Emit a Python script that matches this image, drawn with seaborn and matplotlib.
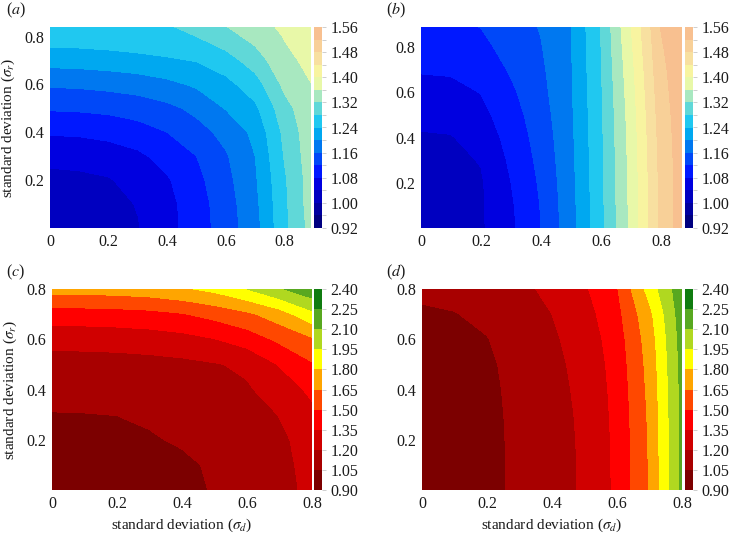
import numpy as np
import matplotlib
matplotlib.use("Agg")
import matplotlib.pyplot as plt
import seaborn as sns

sns.set_theme(style="white")
plt.rcParams["font.family"] = ["Liberation Serif", "DejaVu Serif"]
plt.rcParams["mathtext.fontset"] = "stix"

# grid of standard deviations the surfaces were read on
sd_ab = [0.0, 0.1, 0.2, 0.3, 0.4, 0.5, 0.6, 0.7, 0.8, 0.9]
sd_cd = [0.0, 0.1, 0.2, 0.3, 0.4, 0.5, 0.6, 0.7, 0.8]

# (a) rows = sigma_r, columns = sigma_d
z_a = [
    [1.010, 1.013, 1.025, 1.038, 1.067, 1.100, 1.140, 1.185, 1.270, 1.340],
    [1.015, 1.018, 1.028, 1.042, 1.068, 1.102, 1.142, 1.190, 1.272, 1.345],
    [1.028, 1.031, 1.037, 1.055, 1.076, 1.109, 1.148, 1.195, 1.275, 1.345],
    [1.052, 1.054, 1.060, 1.072, 1.095, 1.120, 1.156, 1.200, 1.283, 1.348],
    [1.084, 1.086, 1.092, 1.103, 1.120, 1.145, 1.172, 1.210, 1.290, 1.350],
    [1.124, 1.126, 1.130, 1.138, 1.150, 1.170, 1.202, 1.232, 1.305, 1.355],
    [1.165, 1.167, 1.172, 1.178, 1.190, 1.206, 1.228, 1.262, 1.330, 1.362],
    [1.215, 1.217, 1.221, 1.227, 1.234, 1.242, 1.262, 1.300, 1.350, 1.372],
    [1.260, 1.261, 1.264, 1.268, 1.273, 1.280, 1.305, 1.333, 1.362, 1.385],
    [1.272, 1.274, 1.277, 1.281, 1.286, 1.300, 1.338, 1.355, 1.372, 1.398],
]

# (b) columns = sigma_d, each listed along sigma_r
z_b_cols = [
    [1.010, 1.012, 1.018, 1.026, 1.036, 1.050, 1.066, 1.083, 1.096, 1.108],
    [1.015, 1.017, 1.023, 1.031, 1.038, 1.052, 1.068, 1.085, 1.099, 1.112],
    [1.035, 1.035, 1.036, 1.042, 1.054, 1.068, 1.081, 1.096, 1.110, 1.122],
    [1.072, 1.075, 1.080, 1.087, 1.095, 1.103, 1.113, 1.124, 1.134, 1.142],
    [1.120, 1.122, 1.126, 1.131, 1.136, 1.142, 1.148, 1.153, 1.158, 1.163],
    [1.185, 1.186, 1.188, 1.190, 1.192, 1.194, 1.196, 1.197, 1.198, 1.199],
    [1.270, 1.270, 1.271, 1.272, 1.273, 1.274, 1.276, 1.278, 1.280, 1.282],
    [1.370, 1.370, 1.371, 1.373, 1.375, 1.378, 1.382, 1.387, 1.393, 1.400],
    [1.490, 1.490, 1.491, 1.493, 1.496, 1.500, 1.505, 1.510, 1.516, 1.522],
    [1.580, 1.580, 1.581, 1.583, 1.586, 1.590, 1.595, 1.600, 1.606, 1.612],
]

# (c) rows = sigma_r
z_c = [
    [0.970, 0.972, 0.980, 0.995, 1.020, 1.058, 1.100, 1.160, 1.230],
    [0.975, 0.977, 0.985, 1.002, 1.030, 1.065, 1.105, 1.165, 1.240],
    [0.990, 0.993, 1.000, 1.040, 1.062, 1.085, 1.115, 1.170, 1.265],
    [1.045, 1.047, 1.052, 1.065, 1.080, 1.100, 1.130, 1.205, 1.310],
    [1.090, 1.092, 1.096, 1.105, 1.120, 1.140, 1.185, 1.260, 1.385],
    [1.133, 1.135, 1.140, 1.150, 1.165, 1.190, 1.225, 1.360, 1.485],
    [1.255, 1.258, 1.265, 1.278, 1.300, 1.345, 1.420, 1.530, 1.630],
    [1.428, 1.432, 1.440, 1.455, 1.490, 1.550, 1.620, 1.730, 1.910],
    [1.706, 1.710, 1.720, 1.740, 1.780, 1.840, 1.950, 2.085, 2.200],
]

# (d) columns = sigma_d
z_d_cols = [
    [0.950, 0.951, 0.953, 0.957, 0.963, 0.972, 0.990, 1.030, 1.080],
    [0.960, 0.961, 0.963, 0.967, 0.973, 0.982, 1.000, 1.045, 1.090],
    [0.995, 0.996, 0.998, 1.002, 1.010, 1.022, 1.045, 1.080, 1.110],
    [1.090, 1.090, 1.092, 1.095, 1.100, 1.108, 1.120, 1.138, 1.160],
    [1.150, 1.150, 1.152, 1.155, 1.160, 1.168, 1.180, 1.200, 1.240],
    [1.215, 1.216, 1.218, 1.222, 1.230, 1.240, 1.260, 1.290, 1.330],
    [1.380, 1.381, 1.384, 1.390, 1.398, 1.410, 1.428, 1.455, 1.490],
    [1.660, 1.662, 1.666, 1.674, 1.686, 1.700, 1.720, 1.760, 1.860],
    [2.130, 2.130, 2.132, 2.135, 2.140, 2.148, 2.160, 2.180, 2.200],
]

top_levels = [0.92, 0.96, 1.00, 1.04, 1.08, 1.12, 1.16, 1.20, 1.24,
              1.28, 1.32, 1.36, 1.40, 1.44, 1.48, 1.52, 1.56]
top_labels = ["0.92", "", "1.00", "", "1.08", "", "1.16", "", "1.24",
              "", "1.32", "", "1.40", "", "1.48", "", "1.56"]
top_colors = ["#000080", "#0000a0", "#0000c0", "#0000e0", "#0018ff", "#0048f8",
              "#0078f0", "#00a8f0", "#20c8f0", "#60d8d8", "#a8e8c0", "#e8f8a8",
              "#f8f4a0", "#f8e0a0", "#f8d098", "#f8c090"]

bottom_levels = [0.90, 1.05, 1.20, 1.35, 1.50, 1.65, 1.80, 1.95, 2.10, 2.25, 2.40]
bottom_labels = ["0.90", "1.05", "1.20", "1.35", "1.50", "1.65",
                 "1.80", "1.95", "2.10", "2.25", "2.40"]
bottom_colors = ["#7c0000", "#a80000", "#d00000", "#ff0000", "#ff4800",
                 "#ffa500", "#ffff00", "#b0d820", "#58a820", "#107c10"]

W, H = 729, 535
fig = plt.figure(figsize=(W / 100, H / 100), dpi=100)


def rect(left, top, right, bottom):
    return [left / W, 1 - bottom / H, (right - left) / W, (bottom - top) / H]


def panel(box, cbox, z, sd, levels, colors, labels, xmax, ymax, tag, tagpos,
          ylabel=False, xlabel=False):
    ax = fig.add_axes(rect(*box))
    cax = fig.add_axes(rect(*cbox))
    zz = np.clip(np.array(z), levels[0] + 1e-6, levels[-1] - 1e-6)
    cs = ax.contourf(sd, sd, zz, levels=levels, colors=colors)
    ax.set_xlim(0, xmax)
    ax.set_ylim(0, ymax)
    ax.set_xticks([0, 0.2, 0.4, 0.6, 0.8])
    ax.set_xticklabels(["0", "0.2", "0.4", "0.6", "0.8"])
    ax.set_yticks([0.2, 0.4, 0.6, 0.8])
    ax.set_yticklabels(["0.2", "0.4", "0.6", "0.8"])
    ax.tick_params(length=0, pad=4, labelsize=11.5, colors="#1a1a1a")
    sns.despine(ax=ax, left=True, bottom=True)
    if ylabel:
        ax.set_ylabel(r"standard deviation ($\sigma_r$)", fontsize=11, color="#1a1a1a")
        ax.yaxis.set_label_coords(-0.125, 0.5)
    if xlabel:
        ax.set_xlabel(r"standard deviation ($\sigma_d$)", fontsize=11, color="#1a1a1a")
        ax.xaxis.set_label_coords(0.5, -0.135)
    cb = fig.colorbar(cs, cax=cax, ticks=levels)
    cb.outline.set_visible(False)
    cb.ax.set_yticklabels(labels)
    cb.ax.tick_params(length=3, width=0.5, color="#bbbbbb", pad=3,
                      labelsize=11.5, labelcolor="#1a1a1a")
    fig.text(tagpos[0] / W, 1 - tagpos[1] / H, r"($\it{" + tag + "}$)",
             fontsize=11.5, va="center", ha="left", color="#1a1a1a")
    return ax


panel((50, 27, 311, 228), (314, 27, 322, 228), z_a, sd_ab, top_levels,
      top_colors, top_labels, 0.89, 0.84, "a", (6, 10), ylabel=True)
panel((421, 27, 682, 228), (685, 27, 693, 228), np.array(z_b_cols).T, sd_ab,
      top_levels, top_colors, top_labels, 0.87, 0.89, "b", (386, 10))
panel((52, 289, 312, 490), (314, 289, 322, 490), z_c, sd_cd, bottom_levels,
      bottom_colors, bottom_labels, 0.8, 0.8, "c", (6, 272), ylabel=True, xlabel=True)
panel((422, 289, 682, 490), (685, 289, 693, 490), np.array(z_d_cols).T, sd_cd,
      bottom_levels, bottom_colors, bottom_labels, 0.8, 0.8, "d", (386, 272), xlabel=True)

fig.savefig("out.png", dpi=100)
